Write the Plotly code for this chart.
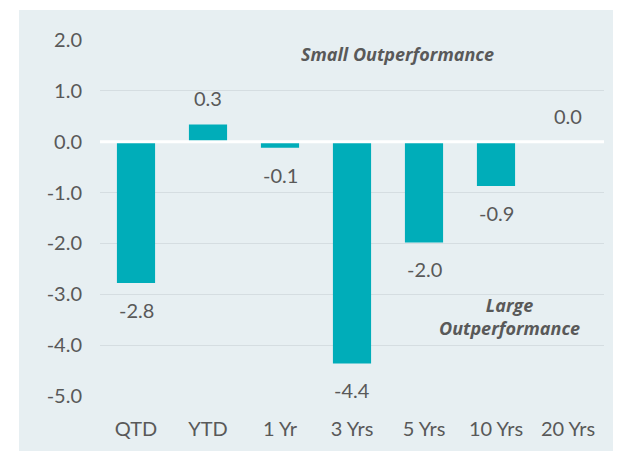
import plotly.graph_objects as go

categories = ["QTD", "YTD", "1 Yr", "3 Yrs", "5 Yrs", "10 Yrs", "20 Yrs"]
values = [-2.78, 0.34, -0.12, -4.36, -1.98, -0.87, 0.0]
labels = ["-2.8", "0.3", "-0.1", "-4.4", "-2.0", "-0.9", "0.0"]
y_ticks = [2, 1, 0, -1, -2, -3, -4, -5]
y_ticklabels = ["2.0", "1.0", "0.0", "-1.0", "-2.0", "-3.0", "-4.0", "-5.0"]

BAR = "#00adb9"
BG = "#e7eff2"
TXT = "#595959"
FONT = "Lato"
AFONT = "Open Sans"
FS = 20

fig = go.Figure()
fig.add_trace(go.Bar(x=categories, y=values, marker=dict(color=BAR, line=dict(width=0)),
                     width=0.53, hoverinfo="skip"))

for c, v, t in zip(categories, values, labels):
    fig.add_annotation(x=c, y=v, text=t, showarrow=False, xref="x", yref="y",
                       yanchor="middle", yshift=26 if v >= 0 else -27,
                       font=dict(family=FONT, size=FS, color=TXT))

fig.add_annotation(x="3 Yrs", y=1.72, text="<b><i>Small Outperformance</i></b>", showarrow=False,
                   xshift=45, font=dict(family=AFONT, size=18, color=TXT))
fig.add_annotation(x="10 Yrs", y=-3.44, text="<b><i>Large<br>Outperformance</i></b>", showarrow=False,
                   xshift=13, align="center", font=dict(family=AFONT, size=18, color=TXT))

# page body has an 8px margin; compensate so the plot lands where the reference has it
OFF = 8
W, H = 621, 451
L, T = 100 - OFF, 40 - OFF
R = W - (604 - OFF)
B = H - (396 - OFF)
pw, ph = W - L - R, H - T - B
fig.add_shape(type="rect", xref="paper", yref="paper",
              x0=(19 - OFF - L) / pw, x1=(W - L) / pw,
              y0=-B / ph, y1=(ph + T - (10 - OFF)) / ph,
              fillcolor=BG, line=dict(width=0), layer="below")
fig.add_shape(type="line", xref="paper", yref="y", x0=0, x1=1, y0=0, y1=0,
              line=dict(color="white", width=3), layer="above")

fig.update_layout(
    width=W, height=H,
    margin=dict(l=L, r=R, t=T, b=B),
    paper_bgcolor="white", plot_bgcolor=BG,
    showlegend=False,
    bargap=0.47,
    font=dict(family=FONT, size=FS, color=TXT),
)
fig.update_xaxes(showgrid=False, zeroline=False, showline=False, ticks="",
                 tickfont=dict(family=FONT, size=FS, color=TXT), ticklabelstandoff=19)
fig.update_yaxes(range=[-5, 2], tickvals=y_ticks, ticktext=y_ticklabels,
                 showgrid=True, gridcolor="#d5dde1", gridwidth=1, zeroline=False,
                 showline=False, ticks="", ticklabelstandoff=17,
                 tickfont=dict(family=FONT, size=FS, color=TXT))

fig.write_html("out.html")
